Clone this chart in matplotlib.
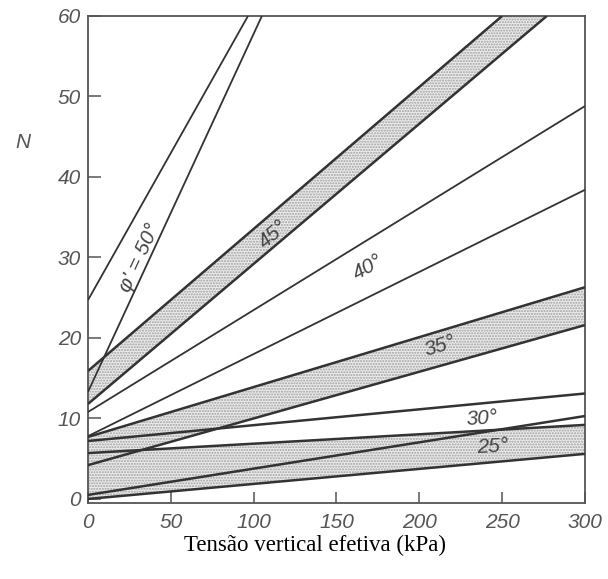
import numpy as np
import matplotlib
matplotlib.use('Agg')
import matplotlib.pyplot as plt

# faixas de N x tensao vertical efetiva, uma por angulo de atrito
phi = [50, 45, 40, 35, 30, 25]
shaded = [False, True, False, True, False, True]
upper_sigma_end = [96.6, 250, 300, 300, 300, 300]
upper_n_start = [24.7, 15.9, 10.8, 7.7, 7.2, 5.7]
upper_n_end = [60, 60, 48.8, 26.3, 13.1, 9.2]
lower_sigma_end = [105, 277, 300, 300, 300, 300]
lower_n_start = [13.3, 11.8, 7.8, 4.2, 0.5, 0.0]
lower_n_end = [60, 60, 38.4, 21.6, 10.3, 5.6]
line_w = [1.3, 1.8, 1.3, 1.8, 1.8, 1.8]

# rotulos das faixas (posicao em kPa, N)
label_text = ["φ' = 50°", '45°', '40°', '35°', '30°', '25°']
label_sigma = [31.4, 111.6, 169, 212.4, 237.8, 244.4]
label_n = [29.9, 32.9, 28.7, 19.0, 10.0, 6.5]
label_slope = [0.445, 0.176, 0.1145, 0.062, 0.012, 0.01]

xticks = [0, 50, 100, 150, 200, 250, 300]
yticks = [0, 10, 20, 30, 40, 50, 60]

fig = plt.figure(figsize=(6.08, 5.79), dpi=100)
ax = fig.add_axes([0.1447, 0.1313, 0.8173, 0.8411])
ax.set_xlim(0, 300)
ax.set_ylim(-0.5, 60)

grey = '#333333'
for i in range(len(phi)):
    xu = [0, upper_sigma_end[i]]
    yu = [upper_n_start[i], upper_n_end[i]]
    xl = [0, lower_sigma_end[i]]
    yl = [lower_n_start[i], lower_n_end[i]]
    if shaded[i]:
        px = xu + xl[::-1]
        py = yu + yl[::-1]
        ax.fill(px, py, facecolor='#ebebeb', hatch='......',
                edgecolor='#a0a0a0', lw=0, zorder=1)
    ax.plot(xu, yu, color=grey, lw=line_w[i], zorder=3, solid_capstyle='butt')
    ax.plot(xl, yl, color=grey, lw=line_w[i], zorder=3, solid_capstyle='butt')

tick_font = dict(family='Liberation Sans', style='italic', size=15, color='#555555')
for i in range(len(label_text)):
    ang = np.degrees(np.arctan(label_slope[i]))
    rot = ax.transData.transform_angles(np.array([ang]),
                                        np.array([[label_sigma[i], label_n[i]]]))[0]
    ax.text(label_sigma[i], label_n[i], label_text[i], rotation=rot,
            ha='center', va='center', rotation_mode='anchor',
            zorder=4, **dict(tick_font, color='#444444'))

ax.set_xticks(xticks)
ax.set_yticks(yticks)
ax.tick_params(direction='in', length=9, width=1.1, color='#555555', pad=5)
ax.tick_params(axis='x', length=8, pad=7)
ax.set_xticklabels([str(v) for v in xticks], fontdict=tick_font)
ax.set_yticklabels([str(v) for v in yticks], fontdict=tick_font)
for s in ax.spines.values():
    s.set_color('#555555')
    s.set_linewidth(1.3)

ax.text(-0.13, 0.741, 'N', transform=ax.transAxes, ha='center', va='center', **tick_font)
ax.text(0.457, -0.088, 'Tensão vertical efetiva (kPa)', transform=ax.transAxes,
        ha='center', va='center', family='Liberation Serif', size=16.5, color='black')

fig.savefig('out.png', dpi=100)
